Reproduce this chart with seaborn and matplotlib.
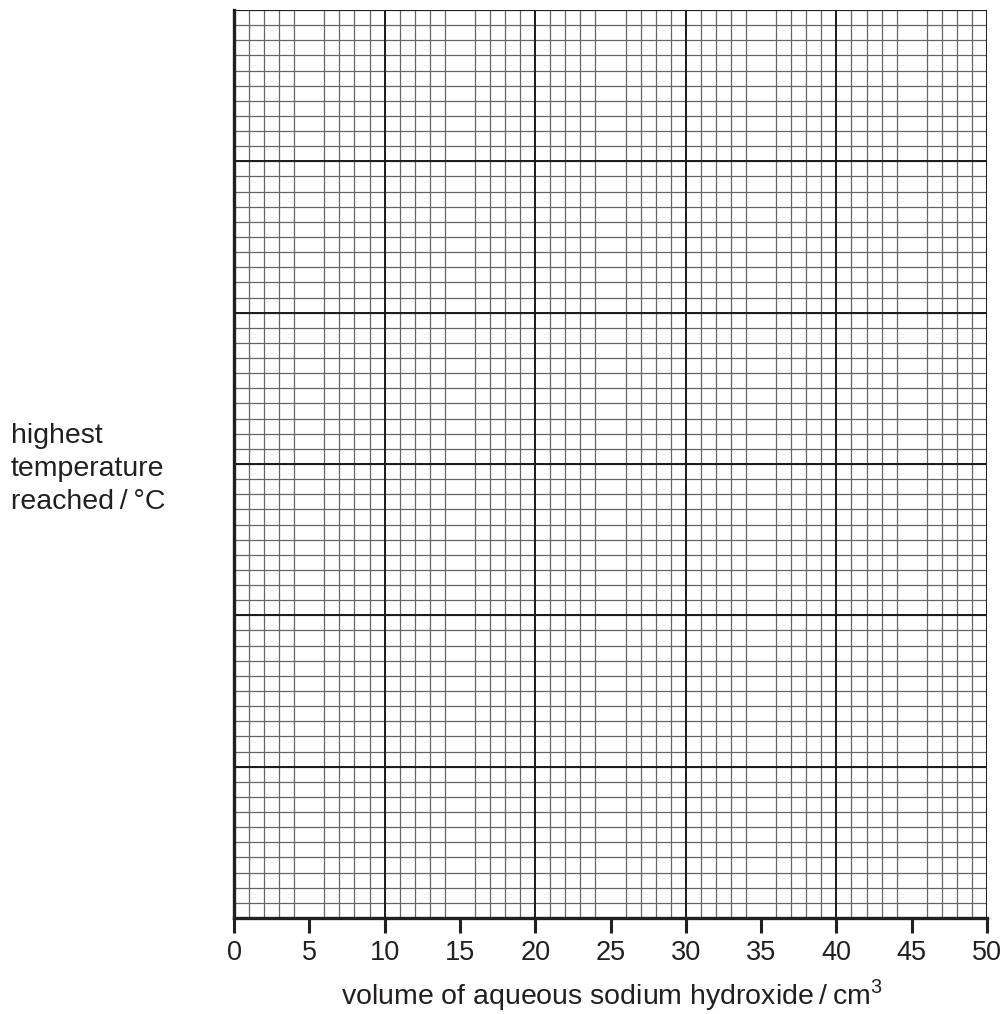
import numpy as np
import matplotlib
matplotlib.use("Agg")
import matplotlib.pyplot as plt
import seaborn as sns

# axis values
x_ticks = [0, 5, 10, 15, 20, 25, 30, 35, 40, 45, 50]
x_major_lines = [10, 20, 30, 40, 50]
y_major_lines = [10, 20, 30, 40, 50, 60]
x_minor = list(range(0, 51))
y_minor = list(range(0, 61))

sns.set_theme(style="white")
plt.rcParams['font.family'] = ['Liberation Sans', 'DejaVu Sans']

fig = plt.figure(figsize=(10.08, 10.14), dpi=100)
ax = fig.add_axes([234 / 1008, 1 - 918 / 1014, 753 / 1008, 908 / 1014])
ax.set_xlim(0, 50)
ax.set_ylim(0, 60)

# fine 1-unit grid
ax.set_xticks(x_minor, minor=True)
ax.set_yticks(y_minor, minor=True)
ax.grid(which='minor', color='#666666', linewidth=0.9)
ax.grid(which='major', visible=False)

# heavier lines every 10 units
ax.vlines(x_major_lines, 0, 60, color='#1a1a1a', linewidth=1.4, zorder=2)
ax.hlines(y_major_lines, 0, 50, color='#1a1a1a', linewidth=1.4, zorder=2)

ax.set_xticks(x_ticks)
ax.set_xticklabels([str(t) for t in x_ticks], fontsize=19.5, color='#231f20')
ax.set_yticks([])
ax.tick_params(axis='x', which='major', direction='out', length=11, width=2.2,
               color='#231f20', pad=5, bottom=True)
ax.tick_params(axis='x', which='minor', length=0)
ax.tick_params(axis='y', which='minor', length=0)

sns.despine(ax=ax, top=True, right=True)
for side in ['left', 'bottom']:
    ax.spines[side].set_linewidth(2.4)
    ax.spines[side].set_color('#231f20')

fig.text(612 / 1008, 1 - 1004 / 1014,
         'volume of aqueous sodium hydroxide\u2009/\u2009cm$^{\\mathregular{3}}$',
         ha='center', va='baseline', fontsize=20.5, color='#231f20')
fig.text(11 / 1008, 1 - 509 / 1014, 'highest\ntemperature\nreached\u2009/\u2009°C',
         ha='left', va='baseline', fontsize=20.5, color='#231f20', linespacing=1.35)

fig.savefig('out.png', dpi=100)
